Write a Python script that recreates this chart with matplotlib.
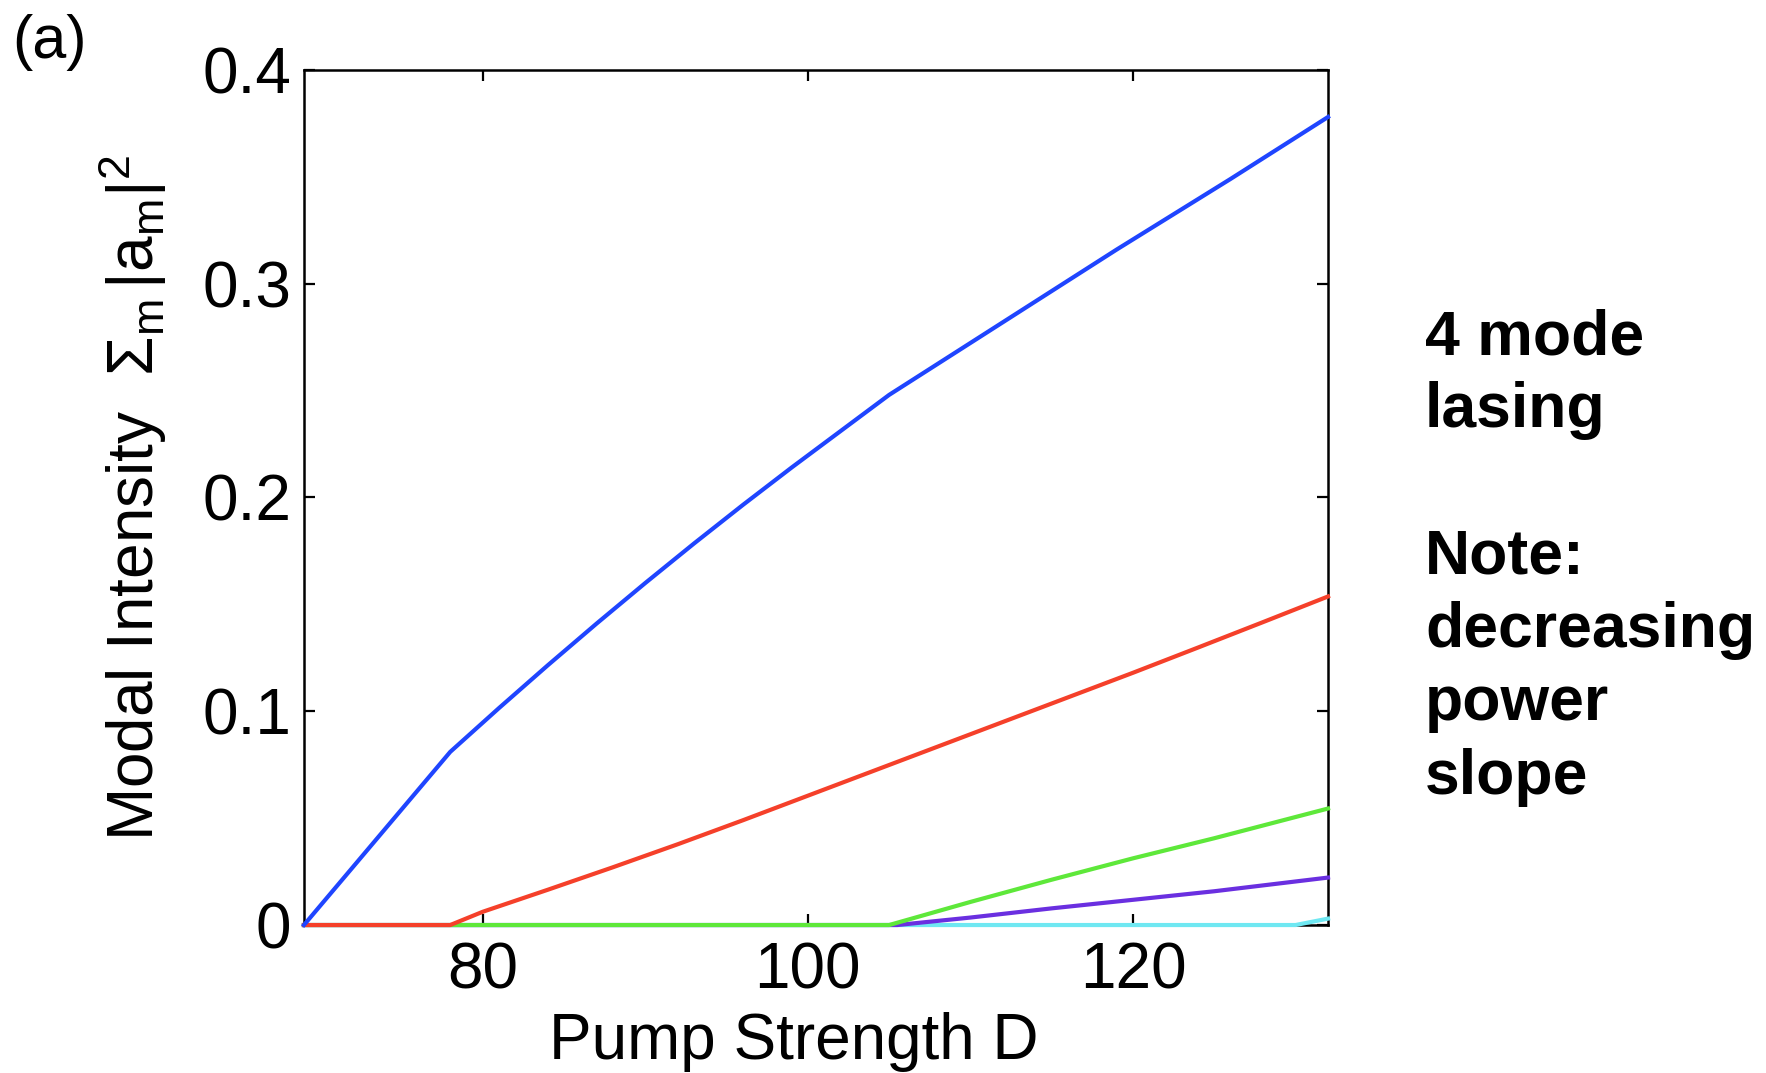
import matplotlib
matplotlib.use('Agg')
import matplotlib.pyplot as plt

plt.rcParams['font.family'] = ['Liberation Sans', 'DejaVu Sans']
plt.rcParams['mathtext.fontset'] = 'custom'
plt.rcParams['mathtext.rm'] = 'Liberation Sans'
plt.rcParams['mathtext.it'] = 'Liberation Sans:italic'

# valores (intensidade modal vs bombeamento D)
D_azul = [69, 78, 81, 84, 87, 90, 93, 96, 99, 102, 105, 112, 119, 126, 132]
I_azul = [0, 0.081, 0.1015, 0.1215, 0.141, 0.16, 0.1785, 0.1965, 0.214, 0.231, 0.248,
          0.282, 0.316, 0.349, 0.378]

D_verm = [69, 78, 80, 84, 88, 92, 96, 100, 104, 108, 112, 116, 120, 124, 128, 132]
I_verm = [0, 0, 0.0062, 0.0165, 0.027, 0.0378, 0.049, 0.0605, 0.072, 0.0835, 0.095,
          0.1065, 0.118, 0.1298, 0.1417, 0.1537]

D_verde = [69, 105, 110, 115, 120, 125, 132]
I_verde = [0, 0, 0.0108, 0.0212, 0.0312, 0.0406, 0.0545]

D_roxo = [69, 105.5, 110, 115, 120, 125, 132]
I_roxo = [0, 0, 0.0035, 0.0078, 0.0118, 0.0158, 0.0222]

D_ciano = [69, 130, 132]
I_ciano = [0, 0, 0.003]

xticks = [80, 100, 120]
yticks = [0, 0.1, 0.2, 0.3, 0.4]
ylabels = ['0', '0.1', '0.2', '0.3', '0.4']

texto = '4 mode\nlasing\n\nNote:\ndecreasing\npower\nslope'

fig = plt.figure(figsize=(17.66, 10.73), dpi=100)
ax = fig.add_axes([0.1721, 0.1379, 0.752 - 0.1721, 0.9348 - 0.1379])

lw = 3.0
ax.plot(D_ciano, I_ciano, color='#6fe8f2', lw=lw, clip_on=False, zorder=3)
ax.plot(D_roxo, I_roxo, color='#6a2fe0', lw=lw, clip_on=False, zorder=3)
ax.plot(D_verde, I_verde, color='#5ee83a', lw=lw, clip_on=False, zorder=3)
ax.plot(D_verm, I_verm, color='#f5402a', lw=lw, clip_on=False, zorder=3)
ax.plot(D_azul, I_azul, color='#1f45ff', lw=lw, clip_on=False, zorder=3)

ax.set_xlim(69, 132)
ax.set_ylim(0, 0.4)
ax.set_xticks(xticks)
ax.set_xticklabels([str(t) for t in xticks])
ax.set_yticks(yticks)
ax.set_yticklabels(ylabels)

for s in ax.spines.values():
    s.set_linewidth(1.8)
ax.tick_params(direction='in', length=8, width=1.6, top=True, right=True,
               labelsize=46)
ax.tick_params(axis='x', pad=12)
ax.tick_params(axis='y', pad=9)

ax.set_xlabel('Pump Strength D', fontsize=46)
ax.xaxis.set_label_coords(0.478, -0.102)
ax.set_ylabel(r'Modal Intensity  $\mathregular{\Sigma_m\,|a_m|^2}$', fontsize=46, labelpad=24)

fig.text(0.007, 0.987, '(a)', fontsize=44, va='top', ha='left')
fig.text(1425 / 1766, 1 - 308 / 1073, texto, fontsize=45, fontweight='bold',
         va='top', ha='left', linespacing=1.31)

fig.savefig('out.png', dpi=100)
